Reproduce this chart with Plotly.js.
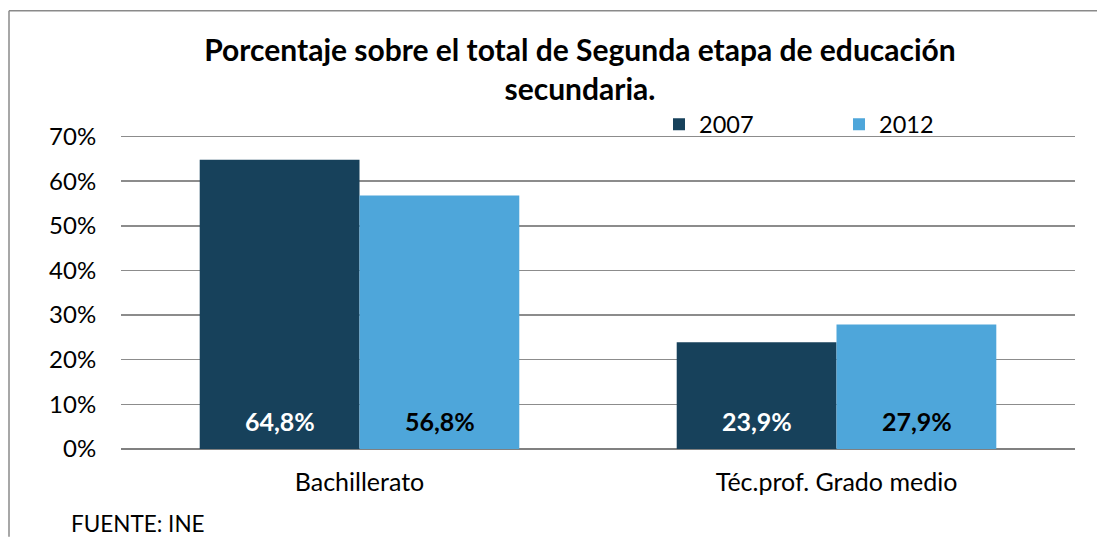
<!DOCTYPE html>
<html>
<head>
<meta charset="utf-8">
<script src="https://cdn.plot.ly/plotly-3.0.1.min.js"></script>
<style>html,body{margin:0;padding:0;background:#fff;overflow:hidden;}#chart{width:1097px;height:537px;}</style>
</head>
<body>
<div id="chart"></div>
<script>
const categories = ["Bachillerato", "Téc.prof. Grado medio"];
const seriesNames = ["2007", "2012"];
const values2007 = [64.8, 23.9];
const values2012 = [56.8, 27.9];
const yTicks = [0, 10, 20, 30, 40, 50, 60, 70];
const yTickLabels = ["0%", "10%", "20%", "30%", "40%", "50%", "60%", "70%"];

const FONT = "Lato, 'Open Sans', sans-serif";
const colors = ["#17415b", "#4ea6da"];
const fmt = v => v.toFixed(1).replace('.', ',') + '%';

// layout geometry (pixels)
const W = 1097, Hh = 537, L = 121, R = 22, B = 88, T = 131.5;
const PW = W - L - R, PH = Hh - T - B, BASE = Hh - B;
const px = x => (x - L) / PW;
const py = y => (BASE - y) / PH;

const traces = [
  {type: 'bar', name: seriesNames[0], x: categories, y: values2007, marker: {color: colors[0]}, hoverinfo: 'none'},
  {type: 'bar', name: seriesNames[1], x: categories, y: values2012, marker: {color: colors[1]}, hoverinfo: 'none'}
];

const annotations = [];
[values2007, values2012].forEach((vals, s) => {
  vals.forEach((v, i) => {
    annotations.push({
      x: categories[i], y: 0, xref: 'x', yref: 'y',
      xshift: s === 0 ? -80 : 80, yshift: 28, yanchor: 'middle',
      text: '<b>' + fmt(v) + '</b>', showarrow: false,
      font: {family: FONT, size: 25, color: s === 0 ? '#ffffff' : '#000000'}
    });
  });
});
annotations.push({
  xref: 'paper', yref: 'paper', x: px(69), y: py(524),
  xanchor: 'left', yanchor: 'middle', text: 'FUENTE: INE', showarrow: false,
  font: {family: FONT, size: 22.5, color: '#000'}
});

const layout = {
  width: W, height: Hh,
  margin: {l: L, r: R, t: T, b: B},
  paper_bgcolor: '#ffffff', plot_bgcolor: '#ffffff',
  title: {
    text: '<b>Porcentaje sobre el total de Segunda etapa de educación<br>secundaria.</b>',
    font: {family: FONT, size: 30, color: '#000'},
    x: 580 / W, xanchor: 'center', y: 1 - 61 / Hh, yanchor: 'middle'
  },
  barmode: 'group', bargap: 0.33, bargroupgap: 0,
  xaxis: {
    type: 'category', showgrid: false, zeroline: false, showline: false,
    ticks: 'outside', ticklen: 11, tickcolor: 'rgba(0,0,0,0)',
    tickfont: {family: FONT, size: 25, color: '#000'}
  },
  yaxis: {
    range: [0, 71], tickmode: 'array', tickvals: yTicks, ticktext: yTickLabels,
    showgrid: true, gridcolor: '#8c8c8c', gridwidth: 1.5,
    zeroline: true, zerolinecolor: '#808080', zerolinewidth: 2,
    showline: false,
    ticks: 'outside', ticklen: 19, tickcolor: 'rgba(0,0,0,0)',
    tickfont: {family: FONT, size: 24, color: '#000'}
  },
  showlegend: true,
  legend: {
    orientation: 'h', x: px(659), xanchor: 'left',
    y: py(146), yanchor: 'bottom',
    entrywidth: 135, entrywidthmode: 'pixels',
    font: {family: FONT, size: 23.5, color: '#000'},
    bgcolor: 'rgba(0,0,0,0)', traceorder: 'normal'
  },
  shapes: [
    {type: 'line', xref: 'paper', yref: 'paper', x0: px(9), x1: px(9), y0: py(537), y1: py(10), line: {color: '#8a8a8a', width: 1.5}},
    {type: 'line', xref: 'paper', yref: 'paper', x0: px(9), x1: px(1097), y0: py(10), y1: py(10), line: {color: '#8a8a8a', width: 1.5}}
  ],
  annotations: annotations
};

Plotly.newPlot('chart', traces, layout, {displayModeBar: false, staticPlot: true});
</script>
</body>
</html>
